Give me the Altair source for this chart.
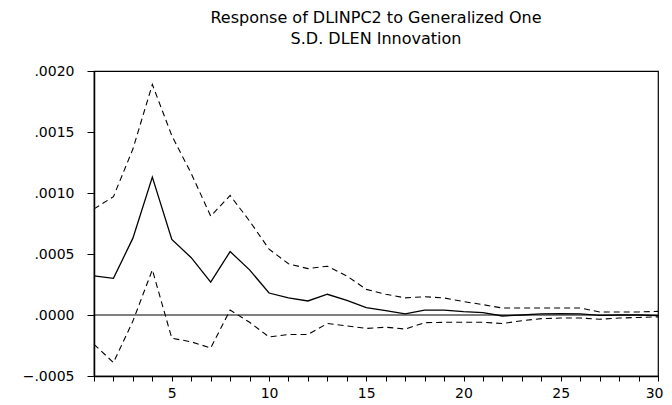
import altair as alt
import pandas as pd

steps = list(range(1, 31))
response = [0.00032, 0.00030, 0.00063, 0.00113, 0.00062, 0.00047, 0.00027, 0.00052, 0.00037, 0.00018,
            0.00014, 0.000115, 0.00017, 0.00012, 0.00006, 0.000035, 0.00001, 0.00004, 0.00004, 0.000027,
            0.00002, -0.000008, 0.0, 0.00001, 0.000012, 0.00001, -0.000003, 0.0, 0.0, -0.000005]
upper = [0.00087, 0.00097, 0.00136, 0.00189, 0.00147, 0.00116, 0.00081, 0.00098, 0.00077, 0.00054,
         0.00042, 0.00038, 0.00040, 0.00032, 0.00021, 0.00017, 0.00014, 0.00015, 0.00014, 0.00011,
         0.000085, 0.000057, 0.000057, 0.000057, 0.000057, 0.000057, 0.000025, 0.000025, 0.000025, 0.00003]
lower = [-0.00024, -0.00039, -0.00005, 0.00037, -0.00019, -0.00022, -0.00027, 0.00004, -0.00006, -0.00018,
         -0.00016, -0.00016, -0.00007, -0.00009, -0.00011, -0.00010, -0.000115, -0.000063, -0.00006, -0.00006,
         -0.00006, -0.00007, -0.000047, -0.00003, -0.000025, -0.000025, -0.000035, -0.000025, -0.00002, -0.000015]

df = pd.DataFrame({"step": steps, "response": response, "upper": upper, "lower": lower})
bands = df.melt(id_vars="step", value_vars=["upper", "lower"], var_name="band", value_name="value")

FONT = "DejaVu Sans"

xs = alt.Scale(domain=[1, 30], nice=False, zero=False)
ys = alt.Scale(domain=[-0.0005, 0.002], nice=False)

x_axis = alt.Axis(values=steps, labelExpr="datum.value % 5 == 0 ? datum.label : ''",
                  grid=False, tickSize=5, tickColor="black", domainColor="black", domainWidth=1.5,
                  labelFont=FONT, labelFontSize=14, labelColor="black", labelPadding=5,
                  title=None, labelFlush=True, labelFlushOffset=5, labelOverlap=False)
y_axis = alt.Axis(values=[-0.0005, 0.0, 0.0005, 0.001, 0.0015, 0.002],
                  labelExpr="replace(format(datum.value, '.4f'), '0.', '.')",
                  grid=False, tickSize=7, tickColor="black", domainColor="black", domainWidth=1.5,
                  labelFont=FONT, labelFontSize=14, labelColor="black", labelPadding=13,
                  title=None, labelFlush=False, labelOverlap=False)

zero = alt.Chart(pd.DataFrame({"y": [0.0]})).mark_rule(color="black", strokeWidth=1).encode(
    y=alt.Y("y:Q", scale=ys, axis=y_axis)
)

mean_line = alt.Chart(df).mark_line(color="black", strokeWidth=1.3).encode(
    x=alt.X("step:Q", scale=xs, axis=x_axis),
    y=alt.Y("response:Q", scale=ys, axis=y_axis),
)

band_lines = alt.Chart(bands).mark_line(color="black", strokeWidth=1.1, strokeDash=[6, 4]).encode(
    x=alt.X("step:Q", scale=xs, axis=x_axis),
    y=alt.Y("value:Q", scale=ys, axis=y_axis),
    detail="band:N",
)

chart = alt.layer(zero, band_lines, mean_line).properties(
    width=564,
    height=305,
    title=alt.TitleParams(
        text=["Response of DLINPC2 to Generalized One", "S.D. DLEN Innovation"],
        font=FONT, fontSize=16, fontWeight="normal", color="black",
        anchor="middle", offset=17, lineHeight=21,
    ),
    autosize=alt.AutoSizeParams(type="none"),
    padding={"left": 86, "top": 63, "right": 6, "bottom": 29},
).configure_view(stroke="black", strokeWidth=1.2)

chart.save("out.html", embed_options={"renderer": "svg", "actions": False})
